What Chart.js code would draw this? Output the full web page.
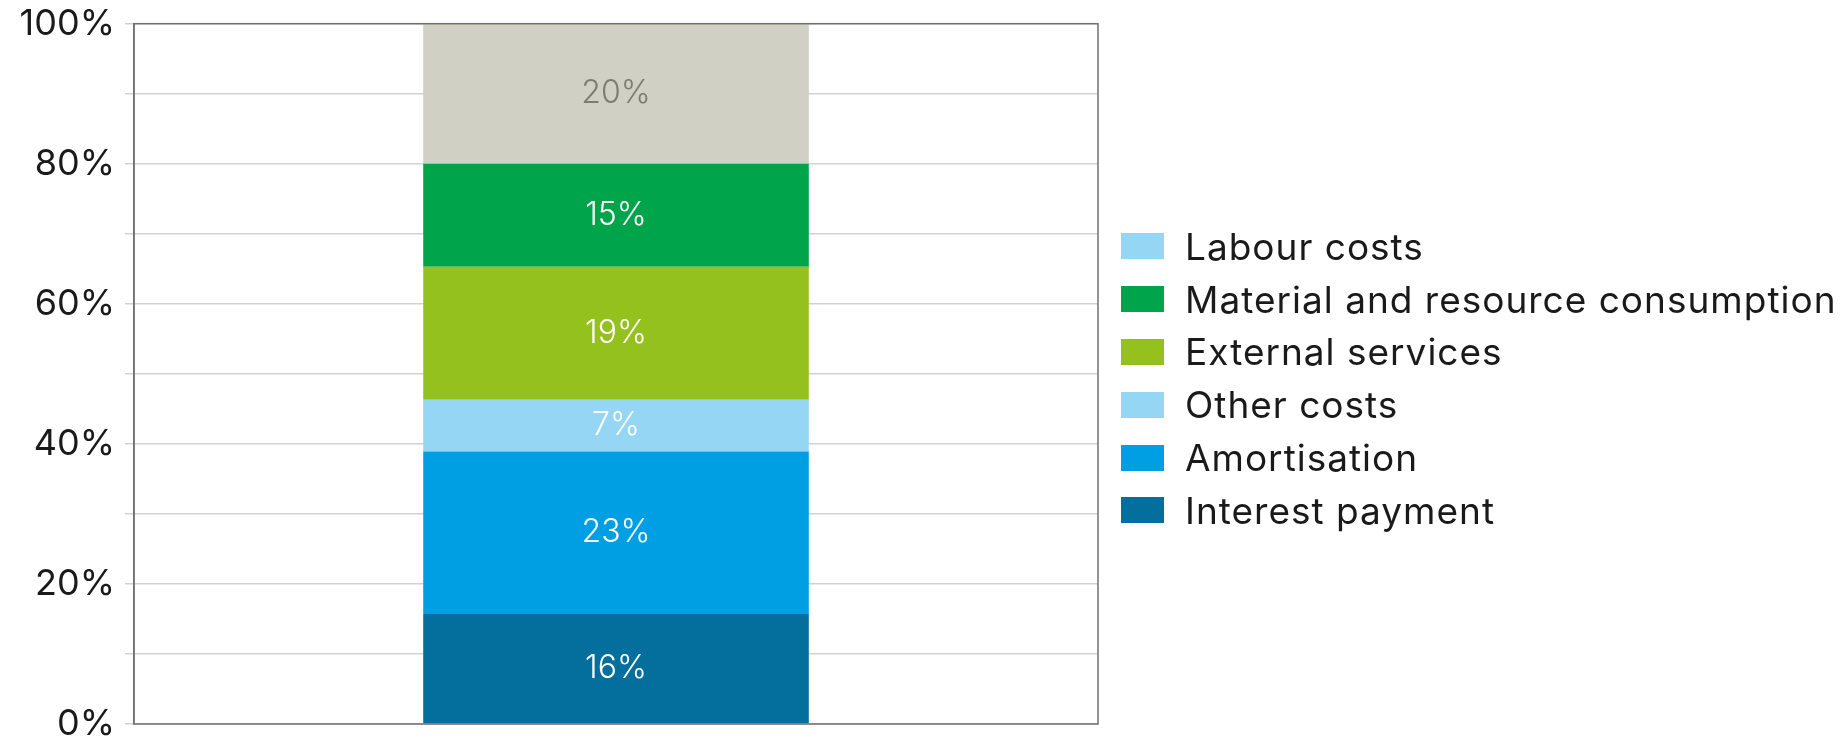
<!DOCTYPE html>
<html>
<head>
<meta charset="utf-8">
<script src="https://cdn.jsdelivr.net/npm/chart.js@4"></script>
<style>
  html, body { margin: 0; padding: 0; background: #fff; overflow: hidden; }
  #wrap { position: relative; width: 1847px; height: 738px; }
  #legend { position: absolute; left: 1121px; top: 220px; font-family: Inter, 'Open Sans', sans-serif; }
  .item { display: flex; align-items: center; height: 52.8px; }
  .box { width: 43px; height: 26px; margin-right: 21px; flex: none; }
  .txt { font-size: 37px; letter-spacing: 1px; color: #1a1a1a; white-space: nowrap; }
</style>
</head>
<body>
<div id="wrap">
  <canvas id="myChart" width="1847" height="738"></canvas>
  <div id="legend"></div>
</div>
<script>
// bottom to top of the stack
let categories = [''];
let seriesNames = ['Interest payment','Amortisation','Other costs','External services','Material and resource consumption','Labour costs'];
let seriesValues = [15.7, 23.2, 7.4, 19.0, 14.7, 20.0];
let barColors = ['#046e9c','#009fe3','#96d6f5','#95c11f','#00a54b','#d0d0c4'];
let swatchColors = ['#046e9c','#009fe3','#96d6f5','#95c11f','#00a54b','#96d6f5'];
let labelColors = ['#fff','#fff','#fff','#fff','#fff','#7d7c70'];
let yTicks = [0,20,40,60,80,100];

let fontFamily = "Inter, 'Open Sans', sans-serif";

let datasets = seriesNames.map(function(name, i) {
  return {
    label: name,
    data: [seriesValues[i]],
    backgroundColor: barColors[i],
    borderWidth: 0,
    barPercentage: 0.4,
    categoryPercentage: 1
  };
});

// legend, top of the stack first
let legendEl = document.getElementById('legend');
for (let i = seriesNames.length - 1; i >= 0; i--) {
  let row = document.createElement('div');
  row.className = 'item';
  let box = document.createElement('span');
  box.className = 'box';
  box.style.background = swatchColors[i];
  let txt = document.createElement('span');
  txt.className = 'txt';
  txt.textContent = seriesNames[i];
  row.appendChild(box);
  row.appendChild(txt);
  legendEl.appendChild(row);
}

let segmentLabels = {
  id: 'segmentLabels',
  afterDatasetsDraw(chart) {
    let ctx = chart.ctx;
    ctx.save();
    ctx.font = "300 32px " + fontFamily;
    ctx.textAlign = 'center';
    ctx.textBaseline = 'middle';
    chart.data.datasets.forEach(function(ds, i) {
      chart.getDatasetMeta(i).data.forEach(function(bar, j) {
        ctx.fillStyle = labelColors[i];
        ctx.fillText(Math.round(ds.data[j]) + '%', bar.x, (bar.y + bar.base) / 2);
      });
    });
    ctx.restore();
  }
};

let frame = {
  id: 'frame',
  afterDatasetsDraw(chart) {
    let a = chart.chartArea;
    let ctx = chart.ctx;
    ctx.save();
    ctx.strokeStyle = '#707070';
    ctx.lineWidth = 1.5;
    ctx.strokeRect(a.left, a.top, a.right - a.left, a.bottom - a.top);
    ctx.restore();
  }
};

let myChart = document.getElementById('myChart').getContext('2d');
let chart = new Chart(myChart, {
  type: 'bar',
  data: {
    labels: categories,
    datasets: datasets
  },
  options: {
    responsive: false,
    animation: false,
    layout: { padding: { top: 23.7, left: 9.6, right: 749, bottom: 14 } },
    scales: {
      x: {
        stacked: true,
        display: false
      },
      y: {
        stacked: true,
        min: 0,
        max: 100,
        ticks: {
          stepSize: 10,
          padding: 10,
          color: '#1a1a1a',
          font: { family: fontFamily, size: 36, lineHeight: 0.1 },
          callback: function(v) { return yTicks.indexOf(v) >= 0 ? v + '%' : ''; }
        },
        grid: { color: '#d2d2d2', lineWidth: 1.5, tickLength: 9 },
        border: { display: true, color: '#707070', width: 1.5 }
      }
    },
    plugins: {
      tooltip: { enabled: false },
      legend: { display: false }
    }
  },
  plugins: [segmentLabels, frame]
});
</script>
</body>
</html>
